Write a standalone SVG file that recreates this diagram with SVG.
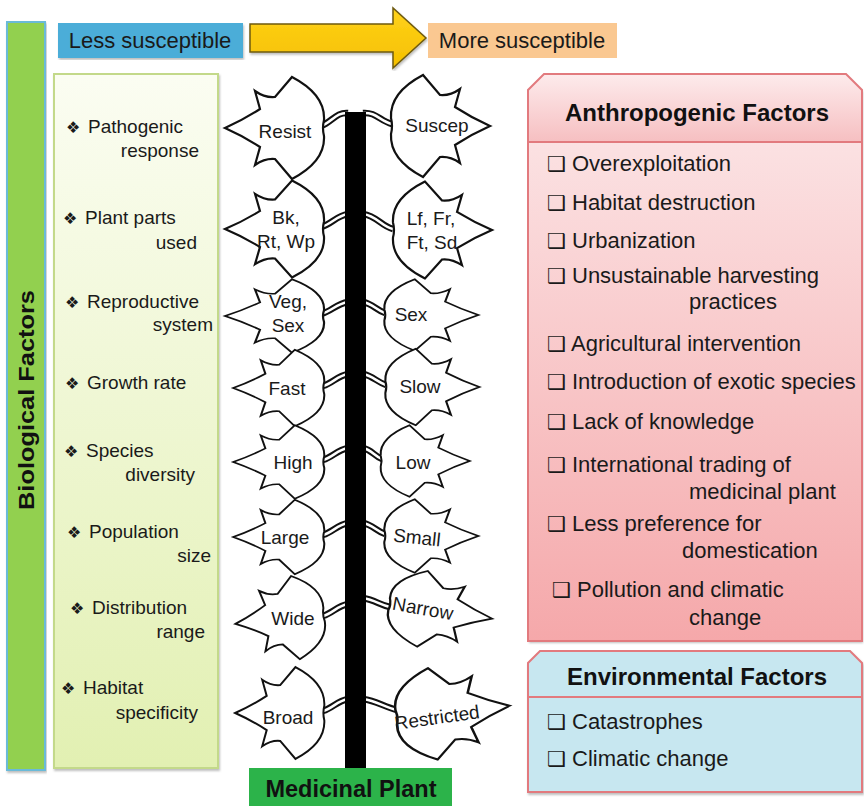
<svg xmlns="http://www.w3.org/2000/svg" xmlns:xlink="http://www.w3.org/1999/xlink" width="864" height="806" viewBox="0 0 864 806">
<defs>
<linearGradient id="gLeft" x1="0" y1="0" x2="0" y2="1"><stop offset="0" stop-color="#fbfdf2"/><stop offset="1" stop-color="#e2f0b2"/></linearGradient>
<linearGradient id="gHead" x1="0" y1="0" x2="0" y2="1"><stop offset="0" stop-color="#fdebec"/><stop offset="1" stop-color="#f6bfc1"/></linearGradient>
<linearGradient id="gBody" x1="0" y1="0" x2="0" y2="1"><stop offset="0" stop-color="#fce9ea"/><stop offset="1" stop-color="#f5a8aa"/></linearGradient>
<linearGradient id="gArrow" x1="0" y1="0" x2="0" y2="1"><stop offset="0" stop-color="#ffd21a"/><stop offset="1" stop-color="#f5c000"/></linearGradient>
<filter id="sh" x="-5%" y="-5%" width="110%" height="110%"><feDropShadow dx="1" dy="2" stdDeviation="1.2" flood-color="#000" flood-opacity="0.25"/></filter>
<path id="leaf" d="M -52,0 Q -34,-8 -17,-19 L -22,-37 Q -12,-30 -2,-31 L 15,-51 C 36,-40 48,-26 47,-8 Q 45,0 47,8 C 48,26 36,40 15,51 L -2,31 Q -12,30 -22,37 L -17,19 Q -34,8 -52,0 Z"/>
</defs>
<style>
.lf{fill:#fff;stroke:#111;stroke-width:2.2;stroke-linejoin:miter}
.lt{font-family:"Liberation Sans",Arial,sans-serif;font-size:19px;fill:#1a1a1a;text-anchor:middle}
.bl{font-family:"Liberation Sans",Arial,sans-serif;font-size:19px;fill:#1a1a1a}
.bu{font-family:"DejaVu Sans",sans-serif;font-size:16px;fill:#1a1a1a}
.it{font-family:"Liberation Sans",Arial,sans-serif;font-size:22px;fill:#1a1a1a}
.cb{font-family:"DejaVu Sans",sans-serif;font-size:21px;font-weight:bold;fill:#1a1a1a}
.hd{font-family:"Liberation Sans",Arial,sans-serif;font-size:24px;font-weight:bold;fill:#111;text-anchor:middle}
.pt1{fill:none;stroke:#111;stroke-width:6.5;stroke-linecap:butt}
.pt2{fill:none;stroke:#fff;stroke-width:2.6;stroke-linecap:butt}
</style>
<rect width="864" height="806" fill="#fff"/>

<g id="bio-bar">
<rect x="7" y="22" width="38" height="748" fill="#92d050" stroke="#6bbad8" stroke-width="2" filter="url(#sh)"/>
<text transform="translate(34,400) rotate(-90)" font-family="Liberation Sans, Arial, sans-serif" font-size="22" font-weight="bold" fill="#111" text-anchor="middle" textLength="220" lengthAdjust="spacingAndGlyphs">Biological Factors</text>
</g>

<g id="less">
<rect x="58" y="23" width="185" height="35" fill="#4badd8" filter="url(#sh)"/>
<text x="150" y="48" class="it" text-anchor="middle">Less susceptible</text>
</g>

<g id="arrow">
<path d="M 250,24 L 393,24 L 393,8 L 426,38 L 393,68 L 393,52 L 250,52 Z" fill="url(#gArrow)" stroke="#6e5a10" stroke-width="1.5" filter="url(#sh)"/>
</g>

<g id="more">
<rect x="428" y="23" width="189" height="35" fill="#fac891"/>
<text x="522" y="48" class="it" text-anchor="middle">More susceptible</text>
</g>

<g id="bio-panel">
<rect x="54" y="74" width="164" height="694" fill="url(#gLeft)" stroke="#c3d98a" stroke-width="2" filter="url(#sh)"/>
<text x="66" y="133" class="bu">❖</text><text x="88" y="133" class="bl">Pathogenic</text>
<text x="199" y="157" class="bl" text-anchor="end">response</text>
<text x="63" y="224" class="bu">❖</text><text x="85" y="224" class="bl">Plant  parts</text>
<text x="197" y="249" class="bl" text-anchor="end">used</text>
<text x="65" y="308" class="bu">❖</text><text x="87" y="308" class="bl">Reproductive</text>
<text x="213" y="331" class="bl" text-anchor="end">system</text>
<text x="65" y="389" class="bu">❖</text><text x="87" y="389" class="bl">Growth  rate</text>
<text x="64" y="457" class="bu">❖</text><text x="86" y="457" class="bl">Species</text>
<text x="195" y="481" class="bl" text-anchor="end">diversity</text>
<text x="67" y="538" class="bu">❖</text><text x="89" y="538" class="bl">Population</text>
<text x="211" y="562" class="bl" text-anchor="end">size</text>
<text x="70" y="614" class="bu">❖</text><text x="92" y="614" class="bl">Distribution</text>
<text x="205" y="638" class="bl" text-anchor="end">range</text>
<text x="61" y="694" class="bu">❖</text><text x="83" y="694" class="bl">Habitat</text>
<text x="198" y="719" class="bl" text-anchor="end">specificity</text>
</g>

<g id="connectors">
<path class="pt1" d="M 321,126 C 332,122 336,112 348,113"/><path class="pt2" d="M 321,126 C 332,122 336,112 348,113"/>
<path class="pt1" d="M 392,124 C 380,121 376,112 363,113"/><path class="pt2" d="M 392,124 C 380,121 376,112 363,113"/>
<path class="pt1" d="M 321,227 C 332,224 336,216 348,214"/><path class="pt2" d="M 321,227 C 332,224 336,216 348,214"/>
<path class="pt1" d="M 393,229 C 381,226 377,216 363,214"/><path class="pt2" d="M 393,229 C 381,226 377,216 363,214"/>
<path class="pt1" d="M 321,314 C 332,311 336,304 348,302"/><path class="pt2" d="M 321,314 C 332,311 336,304 348,302"/>
<path class="pt1" d="M 385,313 C 376,310 373,304 363,302"/><path class="pt2" d="M 385,313 C 376,310 373,304 363,302"/>
<path class="pt1" d="M 323,386 C 333,383 337,376 348,374"/><path class="pt2" d="M 323,386 C 333,383 337,376 348,374"/>
<path class="pt1" d="M 386,385 C 377,382 373,376 363,374"/><path class="pt2" d="M 386,385 C 377,382 373,376 363,374"/>
<path class="pt1" d="M 323,460 C 333,457 337,450 348,448"/><path class="pt2" d="M 323,460 C 333,457 337,450 348,448"/>
<path class="pt1" d="M 382,459 C 374,456 372,450 363,448"/><path class="pt2" d="M 382,459 C 374,456 372,450 363,448"/>
<path class="pt1" d="M 323,535 C 333,532 337,525 348,523"/><path class="pt2" d="M 323,535 C 333,532 337,525 348,523"/>
<path class="pt1" d="M 385,534 C 376,531 373,525 363,523"/><path class="pt2" d="M 385,534 C 376,531 373,525 363,523"/>
<path class="pt1" d="M 323,616 C 333,613 337,606 348,604"/><path class="pt2" d="M 323,616 C 333,613 337,606 348,604"/>
<path class="pt1" d="M 390,607 C 380,605 375,600 363,598"/><path class="pt2" d="M 390,607 C 380,605 375,600 363,598"/>
<path class="pt1" d="M 323,711 C 333,708 337,701 348,699"/><path class="pt2" d="M 323,711 C 333,708 337,701 348,699"/>
<path class="pt1" d="M 397,710 C 384,707 377,701 363,699"/><path class="pt2" d="M 397,710 C 384,707 377,701 363,699"/>
</g>

<g id="stem">
<rect x="345" y="112" width="21" height="660" fill="#000"/>
</g>

<g id="leaf-resist"><use href="#leaf" class="lf" transform="translate(277,128)"/><text x="285" y="138" class="lt">Resist</text></g>
<g id="leaf-suscep"><use href="#leaf" class="lf" transform="translate(438,126) scale(-1,1)"/><text x="437" y="132" class="lt">Suscep</text></g>
<g id="leaf-bk"><use href="#leaf" class="lf" transform="translate(277,229) scale(1,0.95)"/><text x="286" y="224" class="lt">Bk,</text><text x="286" y="248" class="lt">Rt, Wp</text></g>
<g id="leaf-lf"><use href="#leaf" class="lf" transform="translate(440,230) scale(-1,0.95)"/><text x="431" y="225" class="lt">Lf, Fr,</text><text x="432" y="249" class="lt">Ft, Sd</text></g>
<g id="leaf-veg"><use href="#leaf" class="lf" transform="translate(277,316) scale(1,0.72)"/><text x="288" y="308" class="lt">Veg,</text><text x="288" y="332" class="lt">Sex</text></g>
<g id="leaf-sex"><use href="#leaf" class="lf" transform="translate(429,315) scale(-0.95,0.7)"/><text x="411" y="321" class="lt">Sex</text></g>
<g id="leaf-fast"><use href="#leaf" class="lf" transform="translate(281,388) scale(0.92,0.75)"/><text x="287" y="395" class="lt">Fast</text></g>
<g id="leaf-slow"><use href="#leaf" class="lf" transform="translate(430,387) scale(-0.95,0.75)"/><text x="420" y="393" class="lt">Slow</text></g>
<g id="leaf-high"><use href="#leaf" class="lf" transform="translate(281,462) scale(0.92,0.72)"/><text x="293" y="469" class="lt">High</text></g>
<g id="leaf-low"><use href="#leaf" class="lf" transform="translate(423,461) scale(-0.9,0.7)"/><text x="413" y="469" class="lt">Low</text></g>
<g id="leaf-large"><use href="#leaf" class="lf" transform="translate(281,537) scale(0.92,0.73)"/><text x="285" y="544" class="lt">Large</text></g>
<g id="leaf-small"><use href="#leaf" class="lf" transform="translate(429,536) scale(-0.95,0.72)"/><text x="417" y="544" class="lt" transform="rotate(6,417,537)">Small</text></g>
<g id="leaf-wide"><use href="#leaf" class="lf" transform="translate(282,619) rotate(-6) scale(0.9,0.82)"/><text x="293" y="625" class="lt">Wide</text></g>
<g id="leaf-narrow"><use href="#leaf" class="lf" transform="translate(438,611) rotate(8) scale(-1.05,0.75)"/><text x="423" y="615" class="lt" transform="rotate(10,423,608)">Narrow</text></g>
<g id="leaf-broad"><use href="#leaf" class="lf" transform="translate(282,713) scale(0.9,0.9)"/><text x="288" y="724" class="lt">Broad</text></g>
<g id="leaf-restricted"><use href="#leaf" class="lf" transform="translate(450,712) rotate(-6) scale(-1.15,0.9)"/><text x="437" y="724" class="lt" transform="rotate(-8,437,717)">Restricted</text></g>

<g id="medicinal-plant">
<rect x="249" y="768" width="203" height="38" fill="#2cb34a"/>
<text x="351" y="797" font-family="Liberation Sans, Arial, sans-serif" font-size="23.5" font-weight="bold" fill="#111" text-anchor="middle">Medicinal Plant</text>
</g>

<g id="anthropogenic">
<path d="M 528,641 L 528,90 L 544,74 L 846,74 L 862,90 L 862,641 Z" fill="url(#gBody)" filter="url(#sh)"/>
<path d="M 528,142 L 528,90 L 544,74 L 846,74 L 862,90 L 862,142 Z" fill="url(#gHead)"/>
<path d="M 528,641 L 528,90 L 544,74 L 846,74 L 862,90 L 862,641 Z M 528,142 L 862,142" fill="none" stroke="#e27a7e" stroke-width="2"/>
<text x="697" y="121" class="hd">Anthropogenic Factors</text>
<text x="547" y="171" class="cb">❑</text><text x="572" y="171" class="it">Overexploitation</text>
<text x="547" y="210" class="cb">❑</text><text x="572" y="210" class="it">Habitat destruction</text>
<text x="547" y="248" class="cb">❑</text><text x="572" y="248" class="it">Urbanization</text>
<text x="547" y="283" class="cb">❑</text><text x="572" y="283" class="it">Unsustainable harvesting</text>
<text x="689" y="309" class="it">practices</text>
<text x="547" y="351" class="cb">❑</text><text x="571" y="351" class="it">Agricultural intervention</text>
<text x="547" y="389" class="cb">❑</text><text x="572" y="389" class="it">Introduction of exotic species</text>
<text x="547" y="429" class="cb">❑</text><text x="572" y="429" class="it">Lack of knowledge</text>
<text x="547" y="472" class="cb">❑</text><text x="572" y="472" class="it">International trading of</text>
<text x="689" y="499" class="it">medicinal plant</text>
<text x="547" y="531" class="cb">❑</text><text x="572" y="531" class="it">Less preference for</text>
<text x="682" y="558" class="it">domestication</text>
<text x="552" y="597" class="cb">❑</text><text x="577" y="597" class="it">Pollution and climatic</text>
<text x="689" y="625" class="it">change</text>
</g>

<g id="environmental">
<path d="M 528,792 L 528,663 L 540,651 L 850,651 L 862,663 L 862,792 Z" fill="#c7e7f0" stroke="#e27a7e" stroke-width="2" filter="url(#sh)"/>
<line x1="528" y1="697" x2="862" y2="697" stroke="#e27a7e" stroke-width="2"/>
<text x="697" y="685" class="hd">Environmental Factors</text>
<text x="547" y="729" class="cb">❑</text><text x="572" y="729" class="it">Catastrophes</text>
<text x="547" y="766" class="cb">❑</text><text x="572" y="766" class="it">Climatic change</text>
</g>
</svg>
